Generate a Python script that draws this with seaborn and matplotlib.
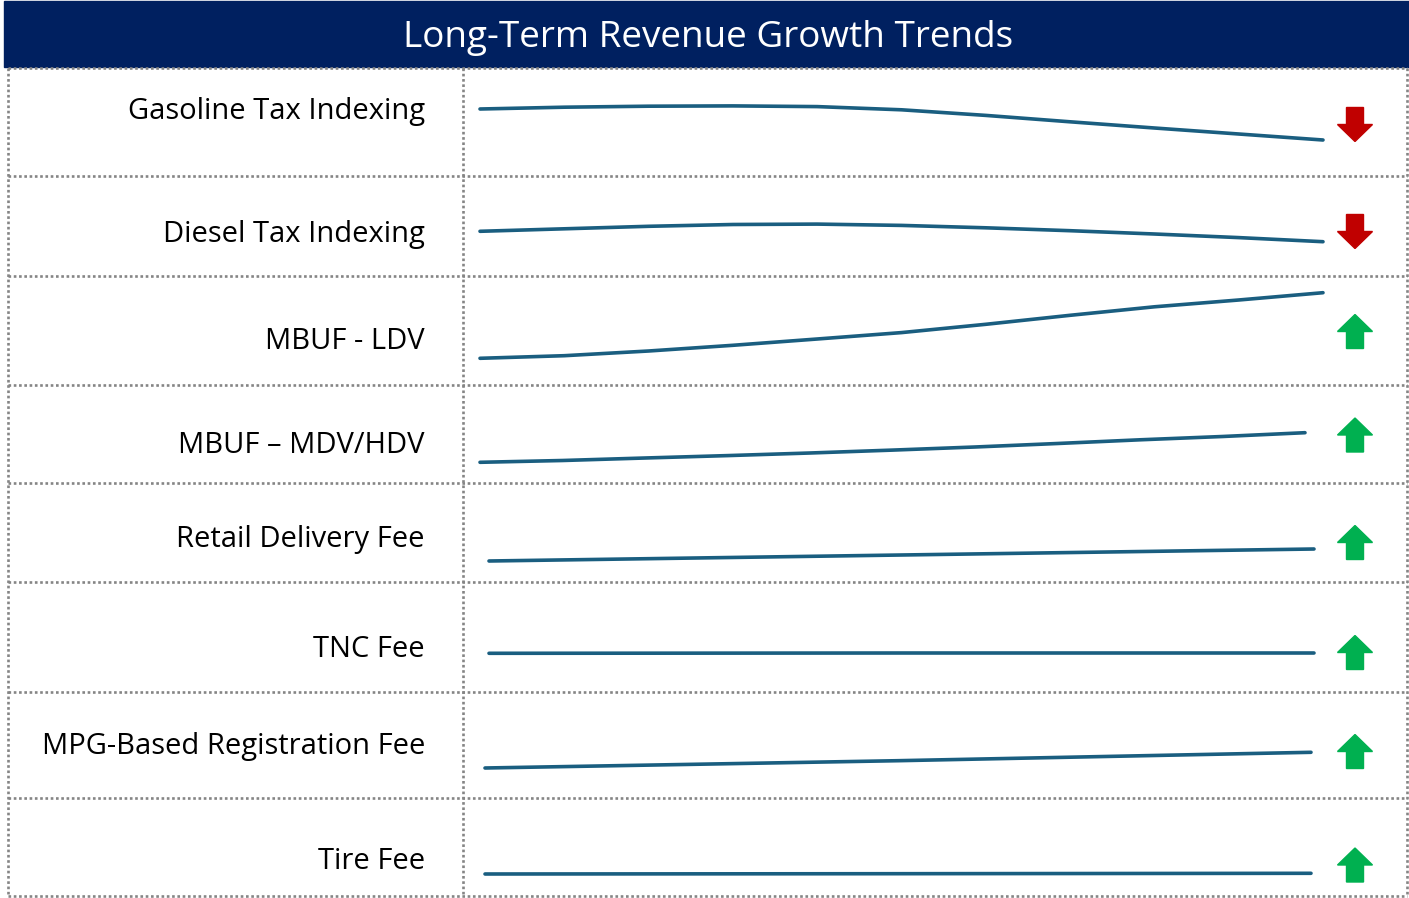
import matplotlib
matplotlib.use('Agg')
import pandas as pd
import seaborn as sns
import matplotlib.pyplot as plt
from matplotlib.patches import Rectangle, Polygon

# Row labels and trend direction
labels = ['Gasoline Tax Indexing', 'Diesel Tax Indexing', 'MBUF - LDV', 'MBUF \u2013 MDV/HDV',
          'Retail Delivery Fee', 'TNC Fee', 'MPG-Based Registration Fee', 'Tire Fee']
trend = ['down', 'down', 'up', 'up', 'up', 'up', 'up', 'up']

# Sparkline readings (relative level) along a 0-10 horizon
horizon = list(range(11))
gasoline = [67, 68.8, 69.8, 70.1, 69.4, 66.2, 60.6, 54.2, 48, 42, 36]
diesel = [44.7, 47.2, 49.7, 51.5, 51.9, 50.6, 48.2, 45.3, 42, 38.4, 34.3]
mbuf_ldv = [26.7, 29.3, 34, 39.7, 46, 52.4, 60.7, 69.7, 78.2, 85, 92.3]
mbuf_hdv = [20.7, 22.5, 25, 27.4, 30, 32.9, 36, 39.5, 43.2, 46.5, 50.3]
horizon_short = [0, 5, 10]
retail = [21, 27, 33]
tnc = [38.7, 39, 39]
mpg_reg = [30, 37.3, 45.7]
tire = [22, 22.3, 22.7]

series = [(horizon, gasoline), (horizon, diesel), (horizon, mbuf_ldv), (horizon, mbuf_hdv),
          (horizon_short, retail), (horizon_short, tnc), (horizon_short, mpg_reg), (horizon_short, tire)]

# layout (pixels)
W, H = 1409, 898
row_edges = [68, 176, 276, 385, 483, 582, 692, 798, 896]
line_span = [(480, 1323), (480, 1323), (480, 1323), (480, 1305),
             (489, 1314), (489, 1314), (485, 1311), (485, 1311)]
label_base = [119, 242, 349, 453, 547, 657, 754, 869]
arrow_y = [124.5, 231.5, 331.5, 435, 542.5, 652.5, 751.5, 865]

navy = '#002060'
line_col = '#1A5E80'
grid_col = '#858585'

sns.set_theme(style='white')
plt.rcParams['font.family'] = ['Open Sans', 'DejaVu Sans']

fig = plt.figure(figsize=(W / 100, H / 100), dpi=100)
fig.patch.set_facecolor('white')
base = fig.add_axes([0, 0, 1, 1])
base.set_xlim(0, W)
base.set_ylim(H, 0)
base.axis('off')

# title bar
base.add_patch(Rectangle((4, 1), W - 4, 66, color=navy, zorder=1))
title = base.text(708, 47, 'Long-Term Revenue Growth Trends', color='white', fontsize=28,
                  ha='center', va='baseline', zorder=3)

# dotted table grid
dots = dict(color=grid_col, lw=1.9, linestyle=(0, (1.0, 1.0)), zorder=2)
for y in row_edges:
    base.plot([8, 1407], [y, y], **dots)
for x in [8, 463, 1407]:
    base.plot([x, x], [row_edges[0], row_edges[-1]], **dots)

# labels, scaled so that widths match the reference
renderer = fig.canvas.get_renderer()
txts = []
for lab, yb in zip(labels, label_base):
    txts.append(base.text(425, yb, lab, color='black', fontsize=20, ha='right', va='baseline', zorder=3))
w0 = txts[0].get_window_extent(renderer).width
for t in txts:
    t.set_fontsize(20 * 296 / w0)
tw = title.get_window_extent(renderer).width
title.set_fontsize(28 * 611 / tw)

# arrows
def arrow(cx, cy, up, color):
    h = 34
    hw, sw, hl = 17.5, 8.5, 17
    if up:
        tip, bot = cy - h / 2, cy + h / 2
        pts = [(cx, tip), (cx + hw, tip + hl), (cx + sw, tip + hl), (cx + sw, bot),
               (cx - sw, bot), (cx - sw, tip + hl), (cx - hw, tip + hl)]
    else:
        tip, top = cy + h / 2, cy - h / 2
        pts = [(cx, tip), (cx + hw, tip - hl), (cx + sw, tip - hl), (cx + sw, top),
               (cx - sw, top), (cx - sw, tip - hl), (cx - hw, tip - hl)]
    base.add_patch(Polygon(pts, closed=True, color=color, zorder=3))

for t, ay in zip(trend, arrow_y):
    arrow(1355, ay, t == 'up', '#00B050' if t == 'up' else '#C00000')

# sparklines
for i, (xs, ys) in enumerate(series):
    top, bot = row_edges[i], row_edges[i + 1]
    x0, x1 = line_span[i]
    ax = fig.add_axes([x0 / W, 1 - bot / H, (x1 - x0) / W, (bot - top) / H])
    ax.patch.set_alpha(0)
    df = pd.DataFrame({'t': xs, 'v': ys})
    sns.lineplot(data=df, x='t', y='v', ax=ax, color=line_col, linewidth=2.6,
                 solid_capstyle='round', solid_joinstyle='round', clip_on=False)
    ax.set_xlim(0, 10)
    ax.set_ylim(0, bot - top)
    ax.axis('off')

fig.savefig('out.png', dpi=100, facecolor='white')
